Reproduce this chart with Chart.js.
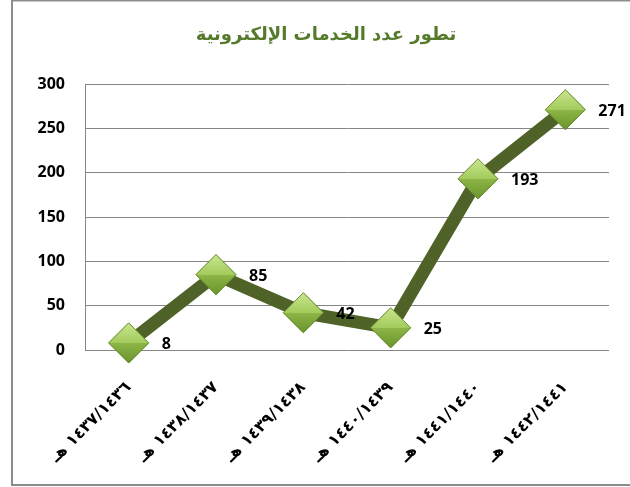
<!DOCTYPE html>
<html>
<head>
<meta charset="utf-8">
<script src="https://cdn.jsdelivr.net/npm/chart.js@4.4.1/dist/chart.umd.min.js"></script>
<style>
  html, body { margin: 0; padding: 0; background: #fff; }
  #wrap { width: 630px; height: 487px; }
</style>
</head>
<body>
<div id="wrap"><canvas id="servicesChart" width="630" height="487"></canvas></div>
<script>
const chartTitle = "تطور عدد الخدمات الإلكترونية";
const periods = [
  "١٤٣٧/١٤٣٦ هـ",
  "١٤٣٨/١٤٣٧ هـ",
  "١٤٣٩/١٤٣٨ هـ",
  "١٤٤٠/١٤٣٩ هـ",
  "١٤٤١/١٤٤٠ هـ",
  "١٤٤٢/١٤٤١ هـ"
];
const servicesCount = [8, 85, 42, 25, 193, 271];
const yTicks = [0, 50, 100, 150, 200, 250, 300];

// frame around whole chart + title (excel style, title is a bit right of centre)
const frame = {
  id: "frame",
  beforeDraw(chart) {
    const c = chart.ctx;
    c.save();
    c.strokeStyle = "#8c8c8c";
    c.lineWidth = 2;
    c.strokeRect(12, 0.5, 640, 484.5);
    c.font = "bold 18px 'DejaVu Sans', sans-serif";
    c.fillStyle = "#557a2c";
    c.textAlign = "center";
    c.textBaseline = "middle";
    c.fillText(chartTitle, 326, 35);
    c.restore();
  }
};

// light / dark facets on the diamond markers
const bevel = {
  id: "bevel",
  afterDatasetsDraw(chart) {
    const c = chart.ctx;
    const meta = chart.getDatasetMeta(0);
    meta.data.forEach(pt => {
      const r = pt.options.radius;
      const g = c.createLinearGradient(pt.x, pt.y - r, pt.x, pt.y + r);
      g.addColorStop(0, "#c9e68f");
      g.addColorStop(0.5, "#a3cb5c");
      g.addColorStop(0.5, "#8db547");
      g.addColorStop(1, "#6a952c");
      c.save();
      c.beginPath();
      c.moveTo(pt.x - r, pt.y);
      c.lineTo(pt.x, pt.y - r);
      c.lineTo(pt.x + r, pt.y);
      c.lineTo(pt.x, pt.y + r);
      c.closePath();
      c.fillStyle = g;
      c.fill();
      c.strokeStyle = "rgba(90,120,40,0.6)";
      c.lineWidth = 1;
      c.stroke();
      c.restore();
    });
  }
};

// value labels to the right of each point
const valueLabels = {
  id: "valueLabels",
  afterDatasetsDraw(chart) {
    const c = chart.ctx;
    const meta = chart.getDatasetMeta(0);
    c.save();
    c.font = "bold 16px 'Open Sans', 'DejaVu Sans', sans-serif";
    c.fillStyle = "#000";
    c.textAlign = "left";
    c.textBaseline = "middle";
    meta.data.forEach((pt, i) => {
      c.fillText(String(servicesCount[i]), pt.x + 33, pt.y + 2);
    });
    c.restore();
  }
};

const ctx = document.getElementById("servicesChart").getContext("2d");
new Chart(ctx, {
  type: "line",
  data: {
    labels: periods,
    datasets: [{
      data: servicesCount,
      borderColor: "#4f6228",
      borderWidth: 13,
      tension: 0,
      pointStyle: "rectRot",
      pointRadius: 20,
      pointHoverRadius: 20,
      pointBackgroundColor: "#8fb84a",
      pointBorderColor: "#6f9a2e",
      pointBorderWidth: 1,
      clip: false
    }]
  },
  options: {
    responsive: false,
    animation: false,
    layout: { padding: { left: 12, right: 20, top: 84, bottom: 0 } },
    plugins: {
      legend: { display: false },
      tooltip: { enabled: false },
      title: { display: false }
    },
    scales: {
      x: {
        offset: true,
        grid: { display: false },
        border: { display: false },
        ticks: {
          color: "#000",
          font: { family: "'DejaVu Sans', sans-serif", size: 16, weight: "bold" },
          maxRotation: 45,
          minRotation: 45,
          padding: 20,
          // RTL embedding so هـ sits on the left like the original
          callback: (v, i) => "\u202B" + periods[i] + "\u202C"
        },
        afterFit: s => { s.height = 137; }
      },
      y: {
        min: 0,
        max: 300,
        afterBuildTicks: s => { s.ticks = yTicks.map(v => ({ value: v })); },
        grid: { color: "#868686", lineWidth: 1, drawTicks: false },
        border: { display: true, color: "#868686", width: 1 },
        ticks: {
          color: "#000",
          font: { family: "'Open Sans', sans-serif", size: 16, weight: "bold" },
          padding: 20
        },
        afterFit: s => { s.width = 73; }
      }
    }
  },
  plugins: [frame, bevel, valueLabels]
});
</script>
</body>
</html>
